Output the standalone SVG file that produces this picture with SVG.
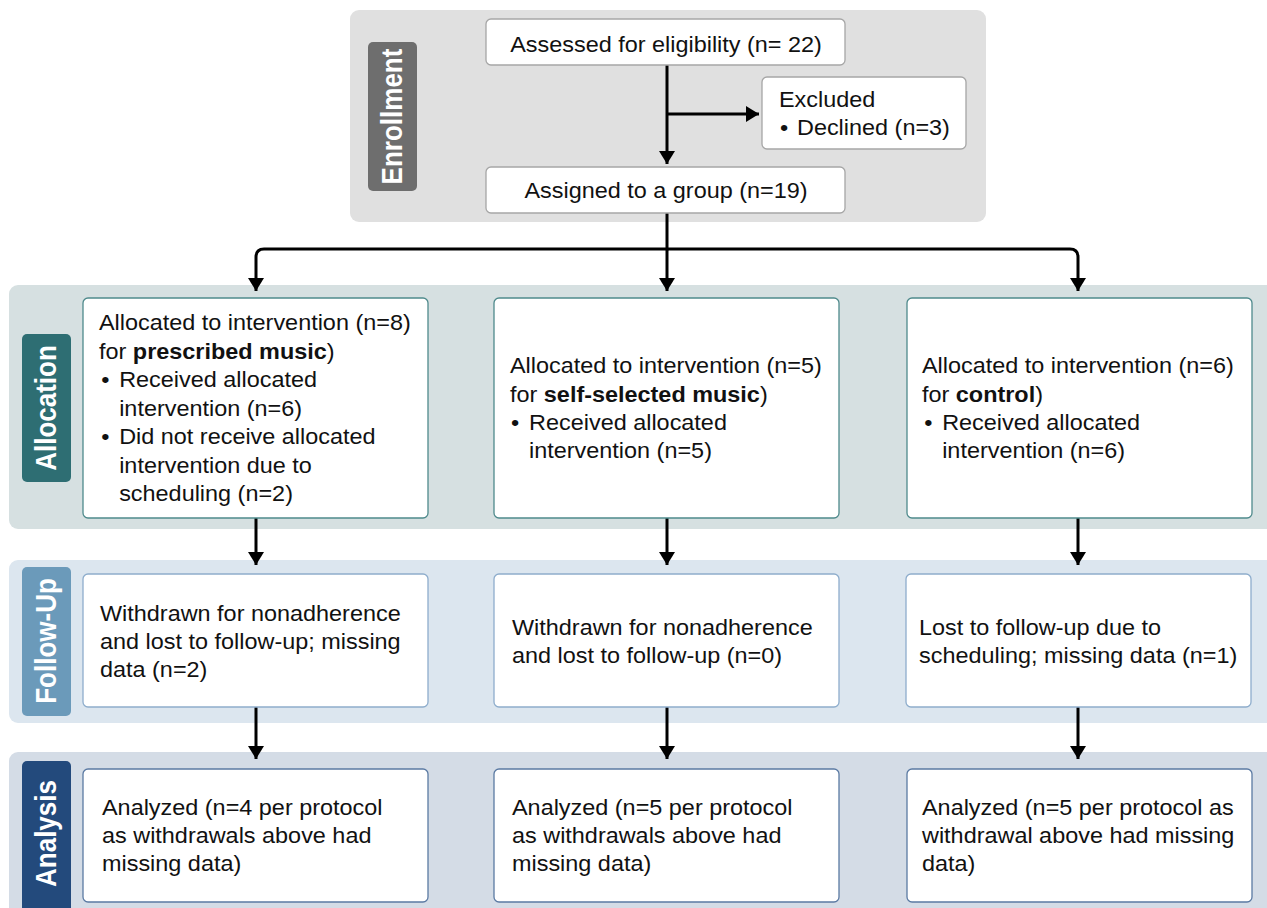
<svg xmlns="http://www.w3.org/2000/svg" width="1267" height="908" viewBox="0 0 1267 908">
<defs>
<style>
.t{font-family:"Liberation Sans",Arial,sans-serif;font-size:21.5px;fill:#111}
.b{font-weight:bold}
.lab{font-family:"Liberation Sans",Arial,sans-serif;font-size:26px;font-weight:bold;fill:#fff;text-anchor:middle}
.c{stroke:#000;stroke-width:3;fill:none}
.box{fill:#fff;stroke-width:1.3}
.en{stroke:#a6a6a6}
.al{stroke:#4f8a8c}
.fu{stroke:#8eadcc}
.an{stroke:#5b7aa3}
</style>
<marker id="ah" markerUnits="userSpaceOnUse" markerWidth="14" markerHeight="16" refX="13" refY="8" orient="auto">
<path d="M0,0 L13,8 L0,16 z" fill="#000"/>
</marker>
</defs>
<rect width="1267" height="908" fill="#fff"/>

<g id="panels">
<rect x="350" y="10" width="636" height="212" rx="9" fill="#e0e0e0"/>
<rect x="9" y="285" width="1280" height="244" rx="9" fill="#d6e0e1"/>
<rect x="9" y="560" width="1280" height="163" rx="9" fill="#dce6ef"/>
<rect x="9" y="752" width="1280" height="180" rx="9" fill="#d4dce6"/>
</g>

<g id="label-enrollment">
<rect x="368" y="42" width="49" height="149" rx="5" fill="#6e6e6e"/>
<text class="lab" transform="translate(401.5 116.5) scale(1.1 1) rotate(-90)">Enrollment</text>
</g>
<g id="label-allocation">
<rect x="22" y="334" width="49" height="148" rx="5" fill="#2e6e73"/>
<text class="lab" transform="translate(55.5 408) scale(1.1 1) rotate(-90)">Allocation</text>
</g>
<g id="label-followup">
<rect x="22" y="567" width="49" height="149" rx="5" fill="#6b9aba"/>
<text class="lab" transform="translate(55.5 641) scale(1.1 1) rotate(-90)">Follow-Up</text>
</g>
<g id="label-analysis">
<rect x="22" y="761" width="49" height="160" rx="5" fill="#234a7c"/>
<text class="lab" transform="translate(55.5 833.5) scale(1.1 1) rotate(-90)">Analysis</text>
</g>

<g id="connectors">
<path class="c" d="M667,65 V164" marker-end="url(#ah)"/>
<path class="c" d="M667,114 H759" marker-end="url(#ah)"/>
<path class="c" d="M667,213 V249 H264 Q256,249 256,257 V291" marker-end="url(#ah)"/>
<path class="c" d="M667,249 V291" marker-end="url(#ah)"/>
<path class="c" d="M667,249 H1070 Q1078,249 1078,257 V291" marker-end="url(#ah)"/>
<path class="c" d="M256,518 V565" marker-end="url(#ah)"/>
<path class="c" d="M667,518 V565" marker-end="url(#ah)"/>
<path class="c" d="M1078,518 V565" marker-end="url(#ah)"/>
<path class="c" d="M256,707 V759" marker-end="url(#ah)"/>
<path class="c" d="M667,707 V759" marker-end="url(#ah)"/>
<path class="c" d="M1078,707 V759" marker-end="url(#ah)"/>
</g>

<g id="assessed">
<rect class="box en" x="486" y="19" width="359" height="46" rx="5"/>
<text class="t" text-anchor="middle" transform="translate(666 52) scale(1.09 1)">Assessed for eligibility (n= 22)</text>
</g>
<g id="excluded">
<rect class="box en" x="762" y="77" width="204" height="72" rx="5"/>
<text class="t" transform="translate(779 107) scale(1.09 1)"><tspan x="0" y="0">Excluded</tspan><tspan x="1" y="28">•</tspan><tspan x="16.5" y="28">Declined (n=3)</tspan></text>
</g>
<g id="assigned">
<rect class="box en" x="486" y="167" width="359" height="46" rx="5"/>
<text class="t" text-anchor="middle" transform="translate(666 198) scale(1.09 1)">Assigned to a group (n=19)</text>
</g>

<g id="alloc-prescribed">
<rect class="box al" x="83" y="298" width="345" height="220" rx="5"/>
<text class="t" transform="translate(99 330) scale(1.09 1)"><tspan x="0" y="0">Allocated to intervention (n=8)</tspan><tspan x="0" y="29">for <tspan class="b">prescribed music</tspan>)</tspan><tspan x="2" y="57">•</tspan><tspan x="18.5" y="57">Received allocated</tspan><tspan x="18.5" y="86">intervention (n=6)</tspan><tspan x="2" y="114">•</tspan><tspan x="18.5" y="114">Did not receive allocated</tspan><tspan x="18.5" y="143">intervention due to</tspan><tspan x="18.5" y="171">scheduling (n=2)</tspan></text>
</g>
<g id="alloc-selfselected">
<rect class="box al" x="494" y="298" width="345" height="220" rx="5"/>
<text class="t" transform="translate(510 373) scale(1.09 1)"><tspan x="0" y="0">Allocated to intervention (n=5)</tspan><tspan x="0" y="29">for <tspan class="b">self-selected music</tspan>)</tspan><tspan x="1" y="57">•</tspan><tspan x="17.5" y="57">Received allocated</tspan><tspan x="17.5" y="85">intervention (n=5)</tspan></text>
</g>
<g id="alloc-control">
<rect class="box al" x="907" y="298" width="345" height="220" rx="5"/>
<text class="t" transform="translate(922 373) scale(1.09 1)"><tspan x="0" y="0">Allocated to intervention (n=6)</tspan><tspan x="0" y="29">for <tspan class="b">control</tspan>)</tspan><tspan x="2" y="57">•</tspan><tspan x="18.5" y="57">Received allocated</tspan><tspan x="18.5" y="85">intervention (n=6)</tspan></text>
</g>

<g id="followup-prescribed">
<rect class="box fu" x="83" y="574" width="345" height="133" rx="5"/>
<text class="t" transform="translate(100 621) scale(1.09 1)"><tspan x="0" y="0">Withdrawn for nonadherence</tspan><tspan x="0" y="28">and lost to follow-up; missing</tspan><tspan x="0" y="56">data (n=2)</tspan></text>
</g>
<g id="followup-selfselected">
<rect class="box fu" x="494" y="574" width="345" height="133" rx="5"/>
<text class="t" transform="translate(512 635) scale(1.09 1)"><tspan x="0" y="0">Withdrawn for nonadherence</tspan><tspan x="0" y="28">and lost to follow-up (n=0)</tspan></text>
</g>
<g id="followup-control">
<rect class="box fu" x="906" y="574" width="345" height="133" rx="5"/>
<text class="t" transform="translate(919 635) scale(1.09 1)"><tspan x="0" y="0">Lost to follow-up due to</tspan><tspan x="0" y="28">scheduling; missing data (n=1)</tspan></text>
</g>

<g id="analysis-prescribed">
<rect class="box an" x="83" y="769" width="345" height="133" rx="5"/>
<text class="t" transform="translate(102 815) scale(1.09 1)"><tspan x="0" y="0">Analyzed (n=4 per protocol</tspan><tspan x="0" y="28">as withdrawals above had</tspan><tspan x="0" y="56">missing data)</tspan></text>
</g>
<g id="analysis-selfselected">
<rect class="box an" x="494" y="769" width="345" height="133" rx="5"/>
<text class="t" transform="translate(512 815) scale(1.09 1)"><tspan x="0" y="0">Analyzed (n=5 per protocol</tspan><tspan x="0" y="28">as withdrawals above had</tspan><tspan x="0" y="56">missing data)</tspan></text>
</g>
<g id="analysis-control">
<rect class="box an" x="907" y="769" width="345" height="133" rx="5"/>
<text class="t" transform="translate(922 815) scale(1.09 1)"><tspan x="0" y="0">Analyzed (n=5 per protocol as</tspan><tspan x="0" y="28">withdrawal above had missing</tspan><tspan x="0" y="56">data)</tspan></text>
</g>
</svg>
